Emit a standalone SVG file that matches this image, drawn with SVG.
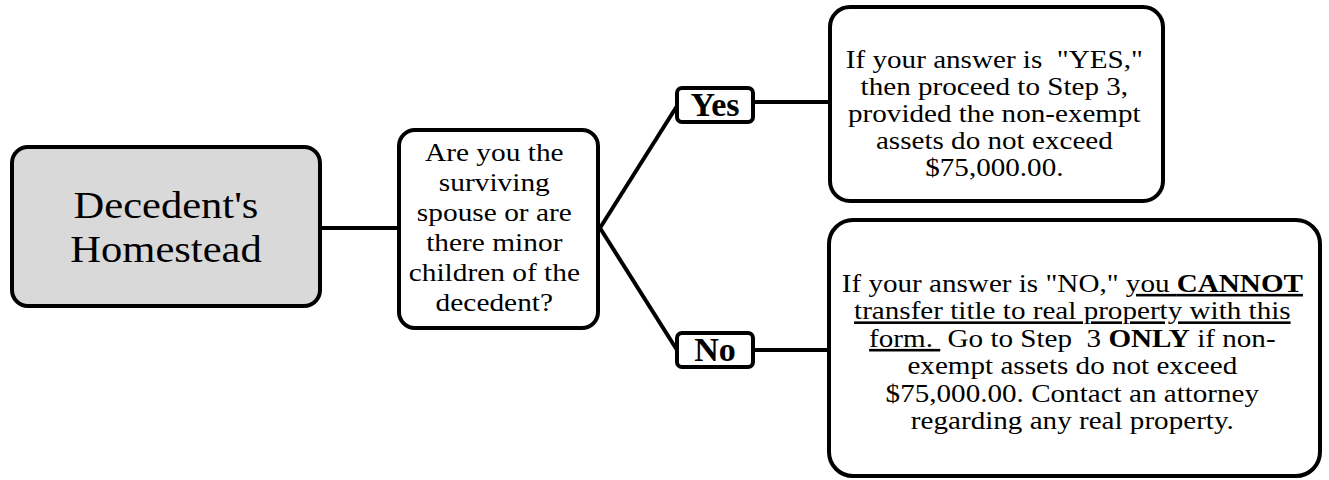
<svg xmlns="http://www.w3.org/2000/svg" width="1329" height="480" viewBox="0 0 1329 480">
<style>
.box{fill:#fff;stroke:#000;stroke-width:4}
.start{fill:#d9d9d9;stroke:#000;stroke-width:4}
.t{font-family:"Liberation Serif","Times New Roman",serif;fill:#000;text-anchor:middle;white-space:pre}
.lbl{font-weight:bold;font-size:34px}
.u{text-decoration:underline}
.b{font-weight:bold}
.conn{stroke:#000;stroke-width:4;fill:none}
</style>
<rect width="1329" height="480" fill="#fff"/>
<g id="connectors">
<line class="conn" x1="322" y1="228" x2="398" y2="228"/>
<line class="conn" x1="600" y1="228" x2="677" y2="106"/>
<line class="conn" x1="600" y1="228" x2="677" y2="350"/>
<line class="conn" x1="754" y1="102" x2="829" y2="102"/>
<line class="conn" x1="754" y1="350" x2="829" y2="350"/>
</g>
<g id="homestead">
<rect class="start" x="12" y="147" width="308" height="159" rx="16"/>
<text class="t" font-size="37" transform="matrix(1.15,0,0,1,-24.9,0)"><tspan x="166" y="218">Decedent's</tspan><tspan x="166" y="262">Homestead</tspan></text>
</g>
<g id="question">
<rect class="box" x="399" y="130" width="199" height="198" rx="16"/>
<text class="t" font-size="26" transform="matrix(1.13,0,0,1,-64.74,0)">
<tspan x="498" y="161">Are you the</tspan>
<tspan x="498" y="191">surviving</tspan>
<tspan x="498" y="221">spouse or are</tspan>
<tspan x="498" y="251">there minor</tspan>
<tspan x="498" y="281">children of the</tspan>
<tspan x="498" y="311">decedent?</tspan>
</text>
</g>
<g id="yes">
<rect class="box" x="677" y="88" width="76" height="34" rx="5"/>
<text class="t lbl" x="715" y="116">Yes</text>
</g>
<g id="no">
<rect class="box" x="677" y="333" width="76" height="34" rx="5"/>
<text class="t lbl" x="715" y="361">No</text>
</g>
<g id="yes-answer">
<rect class="box" x="830" y="7" width="333" height="194" rx="20"/>
<text class="t" font-size="26" transform="matrix(1.12,0,0,1,-119.76,0)">
<tspan x="998" y="68">If your answer is  "YES,"</tspan>
<tspan x="998" y="95">then proceed to Step 3,</tspan>
<tspan x="998" y="122">provided the non-exempt</tspan>
<tspan x="998" y="149">assets do not exceed</tspan>
<tspan x="998" y="176">$75,000.00.</tspan>
</text>
</g>
<g id="no-answer">
<rect class="box" x="829" y="220" width="491" height="256" rx="24"/>
<text class="t" font-size="26" transform="matrix(1.12,0,0,1,-129.12,0)">
<tspan x="1076" y="292">If your answer is "NO," <tspan class="u">you <tspan class="b">CANNOT</tspan></tspan></tspan>
<tspan x="1076" y="319.5" class="u">transfer title to real property with this</tspan>
<tspan x="1076" y="347"><tspan class="u">form. </tspan> Go to Step  3 <tspan class="b">ONLY</tspan> if non-</tspan>
<tspan x="1076" y="374.5">exempt assets do not exceed</tspan>
<tspan x="1076" y="402">$75,000.00. Contact an attorney</tspan>
<tspan x="1076" y="429.5">regarding any real property.</tspan>
</text>
</g>
</svg>
